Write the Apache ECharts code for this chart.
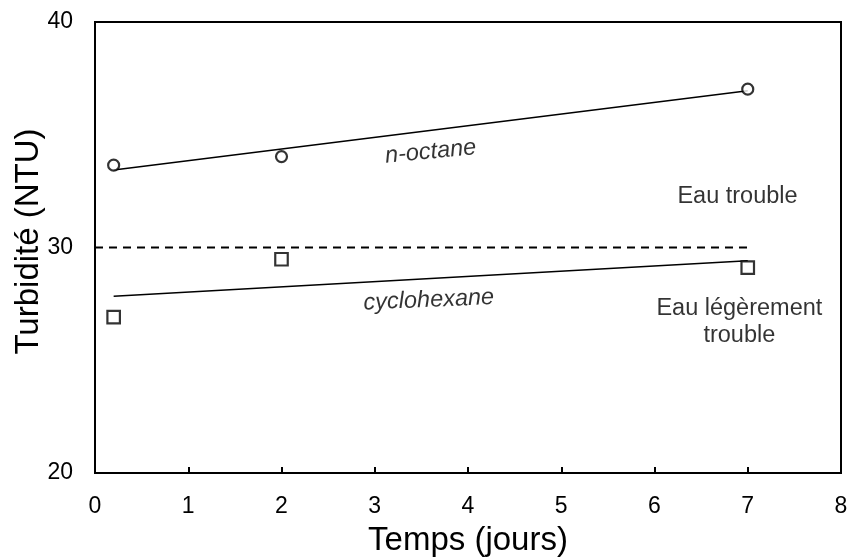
<!DOCTYPE html>
<html>
<head>
<meta charset="utf-8">
<script src="https://cdn.jsdelivr.net/npm/echarts@6/dist/echarts.min.js"></script>
<style>
html,body{margin:0;padding:0;background:#fff;}
#chart{width:850px;height:557px;}
</style>
</head>
<body>
<div id="chart"></div>
<script>
// Data
var days = [0.2, 2, 7];
var octane = [33.65, 34.03, 37.02];
var cyclohexane = [26.91, 29.48, 29.11];
var trendDays = [0.2, 7];
var octaneTrend = [33.44, 36.95];
var cycloTrend = [27.84, 29.41];
var thresholdDays = [0, 7];
var thresholdValue = [30, 30];
var xTicks = [0, 8, 1];   // min, max, interval
var yTicks = [20, 40, 10];

// Annotations (data coordinates)
var annText = ['n-octane', 'cyclohexane', 'Eau trouble', 'Eau légèrement\ntrouble'];
var annX = [3.6, 3.58, 6.89, 6.91];
var annY = [34.24, 27.66, 32.24, 26.68];
var annRotate = [5.5, 2.5, 0, 0];
var annItalic = [true, true, false, false];

function pairs(xs, ys) { return xs.map(function (x, i) { return [x, ys[i]]; }); }

var FONT = '"Liberation Sans", Arial, sans-serif';
var chart = echarts.init(document.getElementById('chart'), null, {renderer: 'canvas'});

var annData = annText.map(function (t, i) {
  return {
    value: [annX[i], annY[i]],
    label: {
      show: true, position: 'inside', formatter: t, rotate: annRotate[i],
      fontStyle: annItalic[i] ? 'italic' : 'normal',
      fontSize: 23.5, fontFamily: FONT, color: '#000', lineHeight: 27, align: 'center'
    }
  };
});

chart.setOption({
  animation: false,
  backgroundColor: '#fff',
  grid: {left: 95, right: 9, top: 22, bottom: 84, containLabel: false, outerBoundsMode: 'none',
         show: true, borderColor: '#000', borderWidth: 2, backgroundColor: 'transparent'},
  xAxis: {
    type: 'value', min: xTicks[0], max: xTicks[1], interval: xTicks[2],
    name: 'Temps (jours)', nameLocation: 'middle', nameGap: 51, nameMoveOverlap: false,
    nameTextStyle: {fontSize: 33, fontFamily: FONT, color: '#000'},
    axisLine: {show: true, lineStyle: {color: '#000', width: 2}},
    axisTick: {show: true, inside: true, length: 6, lineStyle: {color: '#000', width: 2}},
    axisLabel: {fontSize: 23, fontFamily: FONT, color: '#000', margin: 22},
    splitLine: {show: false}
  },
  yAxis: {
    type: 'value', min: yTicks[0], max: yTicks[1], interval: yTicks[2],
    name: 'Turbidité (NTU)', nameLocation: 'middle', nameGap: 50, nameMoveOverlap: false,
    nameTextStyle: {fontSize: 33, fontFamily: FONT, color: '#000', padding: [0, 0, 0, 12]},
    axisLine: {show: true, lineStyle: {color: '#000', width: 2}},
    axisTick: {show: false},
    axisLabel: {fontSize: 23, fontFamily: FONT, color: '#000', margin: 22},
    splitLine: {show: false}
  },
  series: [
    {type: 'line', data: pairs(thresholdDays, thresholdValue), symbol: 'none',
     lineStyle: {color: '#000', width: 2, type: [8, 6]}, z: 2},
    {type: 'line', data: pairs(trendDays, octaneTrend), symbol: 'none',
     lineStyle: {color: '#000', width: 1.6}, z: 2},
    {type: 'line', data: pairs(trendDays, cycloTrend), symbol: 'none',
     lineStyle: {color: '#000', width: 1.6}, z: 2},
    {type: 'scatter', data: pairs(days, octane), symbol: 'circle', symbolSize: 11,
     itemStyle: {color: '#fff', borderColor: '#000', borderWidth: 2.2}, z: 3},
    {type: 'scatter', data: pairs(days, cyclohexane), symbol: 'rect', symbolSize: 12.5,
     itemStyle: {color: '#fff', borderColor: '#000', borderWidth: 2.2}, z: 3},
    {type: 'scatter', data: annData, symbolSize: 0, silent: true, z: 4}
  ]
});
</script>
</body>
</html>
